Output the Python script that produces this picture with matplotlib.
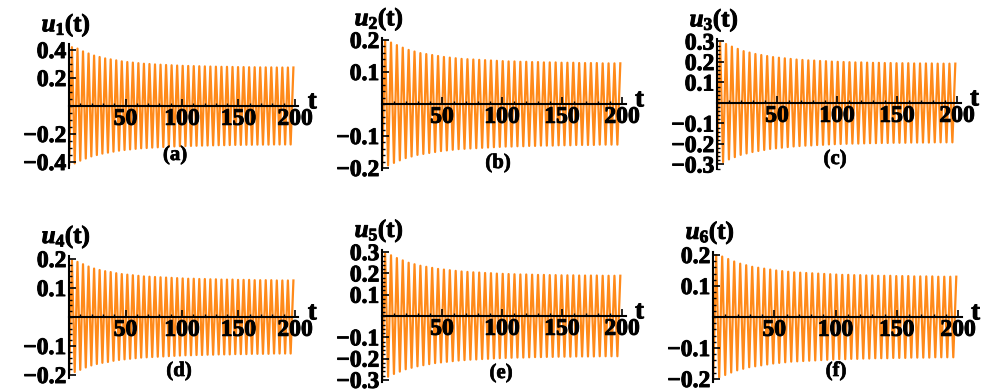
import numpy as np
import matplotlib
matplotlib.use('Agg')
import matplotlib.pyplot as plt
import matplotlib.patheffects as pe
from matplotlib.ticker import MultipleLocator, FixedLocator

plt.rcParams['font.family'] = ['Liberation Serif', 'DejaVu Serif']
plt.rcParams['font.weight'] = 'bold'
plt.rcParams['mathtext.fontset'] = 'custom'
plt.rcParams['mathtext.rm'] = 'Liberation Serif:bold'
plt.rcParams['mathtext.it'] = 'Liberation Serif:bold:italic'
plt.rcParams['mathtext.bf'] = 'Liberation Serif:bold'

# times of the extrema (trough, peak, trough, ...)
t_ext = np.arange(0.15, 200.0, 2.45)

# amplitude of each oscillation cycle (41 cycles over 0..200)
amp_u1 = [0.420, 0.410, 0.390, 0.375, 0.360, 0.350, 0.340, 0.333, 0.326, 0.319,
          0.314, 0.310, 0.306, 0.302, 0.300, 0.297, 0.295, 0.293, 0.291, 0.289,
          0.287, 0.286, 0.285, 0.284, 0.283, 0.282, 0.281, 0.280, 0.280, 0.279,
          0.278, 0.278, 0.277, 0.277, 0.276, 0.276, 0.276, 0.275, 0.275, 0.275, 0.275]
amp_u2 = [0.197, 0.192, 0.184, 0.176, 0.169, 0.164, 0.159, 0.156, 0.153, 0.150,
          0.147, 0.145, 0.143, 0.141, 0.140, 0.139, 0.138, 0.137, 0.136, 0.135,
          0.134, 0.133, 0.133, 0.132, 0.132, 0.131, 0.131, 0.130, 0.130, 0.130,
          0.129, 0.129, 0.129, 0.128, 0.128, 0.128, 0.128, 0.127, 0.127, 0.127, 0.127]
amp_u3 = [0.295, 0.288, 0.275, 0.264, 0.253, 0.246, 0.239, 0.234, 0.229, 0.224,
          0.221, 0.218, 0.215, 0.212, 0.210, 0.208, 0.207, 0.205, 0.204, 0.202,
          0.201, 0.200, 0.199, 0.198, 0.198, 0.197, 0.196, 0.196, 0.195, 0.195,
          0.194, 0.194, 0.194, 0.193, 0.193, 0.193, 0.193, 0.192, 0.192, 0.192, 0.192]
amp_u4 = [0.195, 0.190, 0.182, 0.174, 0.167, 0.162, 0.158, 0.155, 0.151, 0.148,
          0.146, 0.144, 0.142, 0.140, 0.139, 0.138, 0.137, 0.136, 0.135, 0.134,
          0.133, 0.132, 0.132, 0.131, 0.131, 0.130, 0.130, 0.129, 0.129, 0.129,
          0.128, 0.128, 0.128, 0.127, 0.127, 0.127, 0.127, 0.126, 0.126, 0.126, 0.126]
amp_u5 = [0.292, 0.285, 0.272, 0.261, 0.250, 0.243, 0.236, 0.231, 0.226, 0.221,
          0.218, 0.215, 0.212, 0.209, 0.207, 0.205, 0.204, 0.202, 0.201, 0.199,
          0.198, 0.197, 0.196, 0.195, 0.195, 0.194, 0.193, 0.193, 0.192, 0.192,
          0.191, 0.191, 0.191, 0.190, 0.190, 0.190, 0.190, 0.189, 0.189, 0.189, 0.189]
amp_u6 = [0.200, 0.195, 0.187, 0.179, 0.172, 0.167, 0.162, 0.159, 0.156, 0.153,
          0.150, 0.148, 0.146, 0.144, 0.143, 0.142, 0.141, 0.140, 0.139, 0.138,
          0.137, 0.136, 0.136, 0.135, 0.135, 0.134, 0.134, 0.133, 0.133, 0.133,
          0.132, 0.132, 0.132, 0.131, 0.131, 0.131, 0.131, 0.130, 0.130, 0.130, 0.130]

amps = [amp_u1, amp_u2, amp_u3, amp_u4, amp_u5, amp_u6]
names = ['1', '2', '3', '4', '5', '6']
letters = ['(a)', '(b)', '(c)', '(d)', '(e)', '(f)']
x_ticks = [50, 100, 150, 200]
y_ticks = [[-0.4, -0.2, 0.2, 0.4],
           [-0.2, -0.1, 0.1, 0.2],
           [-0.3, -0.2, -0.1, 0.1, 0.2, 0.3],
           [-0.2, -0.1, 0.1, 0.2],
           [-0.3, -0.2, -0.1, 0.1, 0.2, 0.3],
           [-0.2, -0.1, 0.1, 0.2]]
y_lims = [(-0.44, 0.44), (-0.205, 0.205), (-0.32, 0.31),
          (-0.21, 0.21), (-0.31, 0.31), (-0.21, 0.21)]

# pixel layout: x of t=0, x of t=200, y of u=0, pixels per unit
layout = [(69, 295, 106, 140), (382, 622, 104, 320), (717, 957, 103, 205),
          (69, 295, 317, 290), (382, 622, 316, 213), (713, 958, 317, 310)]
# pixel centres of the (a)..(f) captions
letter_pos = [(175, 155), (498, 163), (835, 159), (179, 371), (501, 373), (836, 371)]

W, H = 982, 389
fig = plt.figure(figsize=(W / 100, H / 100), dpi=100)
orange = '#FF8A1A'
signs = np.tile([-1, 1], 41)
heavy = [pe.withStroke(linewidth=0.7, foreground='black')]


def fmt(v, p):
    return f'{v:.1f}'.replace('-', '\u2212')


for i in range(6):
    x0, x200, zero, scale = layout[i]
    ylo, yhi = y_lims[i]
    top_px = zero - yhi * scale
    bot_px = zero - ylo * scale
    ax = fig.add_axes([x0 / W, 1 - bot_px / H,
                       (x200 - x0) * 1.015 / W, (bot_px - top_px) / H])
    ax.set_xlim(0, 203)
    ax.set_ylim(ylo, yhi)

    u = np.repeat(amps[i], 2) * signs
    ax.plot(t_ext, u, color=orange, lw=1.6, solid_joinstyle='round', zorder=1)

    for s in ['top', 'right']:
        ax.spines[s].set_visible(False)
    ax.spines['bottom'].set_position(('data', 0))
    ax.spines['left'].set_position(('data', 0))
    ax.spines['bottom'].set_linewidth(1.5)
    ax.spines['left'].set_linewidth(1.5)
    ax.patch.set_visible(False)

    ax.xaxis.set_major_locator(FixedLocator(x_ticks))
    ax.xaxis.set_minor_locator(MultipleLocator(10))
    ax.yaxis.set_major_locator(FixedLocator(y_ticks[i]))
    ax.yaxis.set_minor_locator(MultipleLocator(0.05 if i == 0 else 0.02))
    ax.yaxis.set_major_formatter(plt.FuncFormatter(fmt))
    ax.tick_params(which='major', direction='in', length=5, width=1.2,
                   labelsize=17, pad=2)
    ax.tick_params(which='minor', direction='in', length=2.5, width=1)
    for lab in ax.get_xticklabels() + ax.get_yticklabels():
        lab.set_fontweight('bold')
        lab.set_path_effects(heavy)
    ax.xaxis.set_zorder(3)
    ax.yaxis.set_zorder(3)

    # function name above the y-axis
    ax.annotate(r'$u_{\mathrm{%s}}\mathrm{(t)}$' % names[i], xy=(0, 1.0),
                xycoords='axes fraction', xytext=(-2, 4), textcoords='offset points',
                ha='center', va='bottom', fontsize=18, path_effects=heavy)
    # axis name at the end of the t-axis
    ax.annotate('t', xy=(1.0, 0), xycoords=('axes fraction', 'data'),
                xytext=(10, 3), textcoords='offset points',
                ha='center', va='center', fontsize=19, fontweight='bold',
                path_effects=heavy)
    lx, ly = letter_pos[i]
    fig.text(lx / W, 1 - ly / H, letters[i], fontsize=15,
             fontweight='bold', ha='center', va='center',
             path_effects=[pe.withStroke(linewidth=0.5, foreground='black')])

fig.savefig('out.png', dpi=100)
